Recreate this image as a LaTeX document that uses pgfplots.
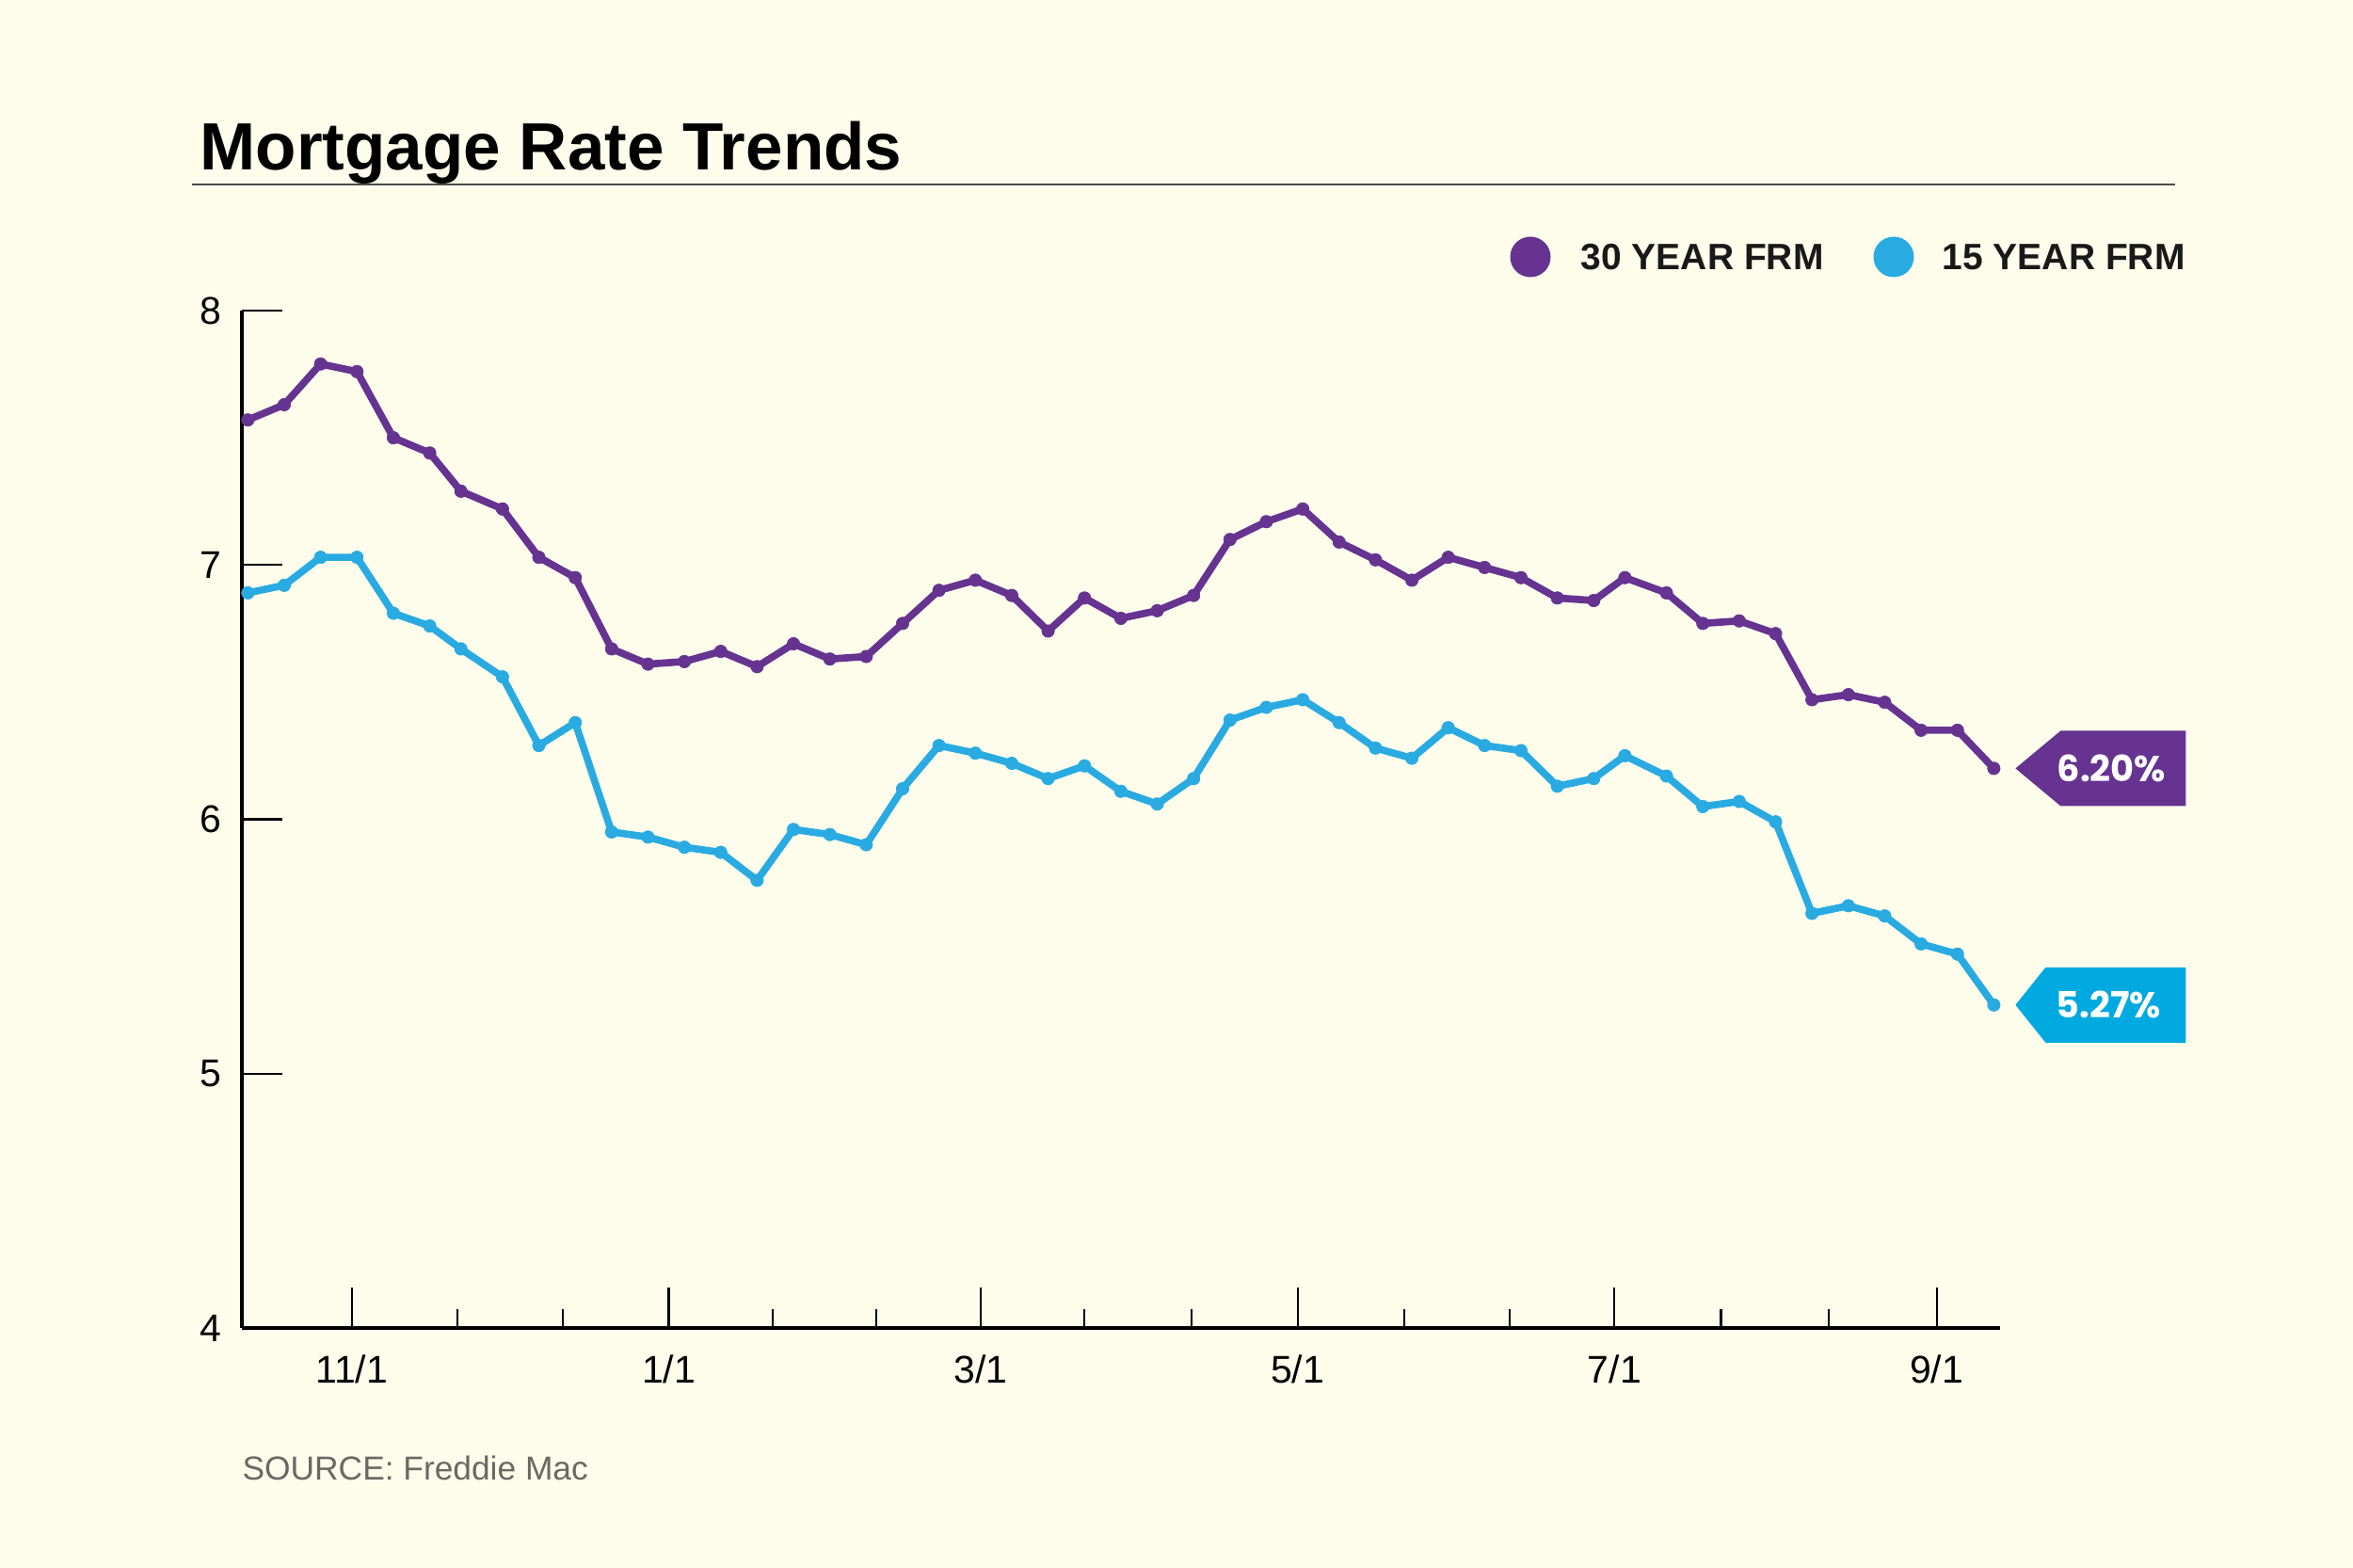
\documentclass[border=0pt]{standalone}
\usepackage{pgfplots}
\pgfplotsset{compat=1.18}
\usepackage{pgfplotstable}
\usepackage{fontspec}
\setmainfont{Liberation Sans}
\newfontfamily\tagfont{Poppins}
\definecolor{bg}{RGB}{254,253,236}
\definecolor{purp}{RGB}{102,51,145}
\definecolor{blu}{RGB}{41,171,226}
\definecolor{blutag}{RGB}{0,169,224}
\definecolor{srcgray}{RGB}{105,105,100}

% days since 10/12/2023, 30-year and 15-year FRM
\pgfplotstableread{
day r30 r15
0   7.57 6.89
7   7.63 6.92
14  7.79 7.03
21  7.76 7.03
28  7.50 6.81
35  7.44 6.76
41  7.29 6.67
49  7.22 6.56
56  7.03 6.29
63  6.95 6.38
70  6.67 5.95
77  6.61 5.93
84  6.62 5.89
91  6.66 5.87
98  6.60 5.76
105 6.69 5.96
112 6.63 5.94
119 6.64 5.90
126 6.77 6.12
133 6.90 6.29
140 6.94 6.26
147 6.88 6.22
154 6.74 6.16
161 6.87 6.21
168 6.79 6.11
175 6.82 6.06
182 6.88 6.16
189 7.10 6.39
196 7.17 6.44
203 7.22 6.47
210 7.09 6.38
217 7.02 6.28
224 6.94 6.24
231 7.03 6.36
238 6.99 6.29
245 6.95 6.27
252 6.87 6.13
259 6.86 6.16
265 6.95 6.25
273 6.89 6.17
280 6.77 6.05
287 6.78 6.07
294 6.73 5.99
301 6.47 5.63
308 6.49 5.66
315 6.46 5.62
322 6.35 5.51
329 6.35 5.47
336 6.20 5.27
}\rates

\begin{document}
\begin{tikzpicture}
\fill[bg] (0,0) rectangle (750pt,499.8pt);

% title and rule
\node[anchor=base west, inner sep=0pt, font=\fontsize{21.3}{25}\selectfont\bfseries] at (63.6pt,445.6pt) {Mortgage Rate Trends};
\draw[black!70, line width=0.5pt] (61.2pt,441pt) -- (693.3pt,441pt);

% legend
\fill[purp] (487.8pt,417.9pt) circle (6.45pt);
\node[anchor=base west, inner sep=0pt, font=\fontsize{11.7}{14}\selectfont\bfseries, text=black!90] at (503.7pt,413.7pt) {30 YEAR FRM};
\fill[blu] (603.6pt,417.9pt) circle (6.45pt);
\node[anchor=base west, inner sep=0pt, font=\fontsize{11.7}{14}\selectfont\bfseries, text=black!90] at (618.9pt,413.7pt) {15 YEAR FRM};

% source
\node[anchor=base west, inner sep=0pt, font=\fontsize{10.6}{13}\selectfont, text=srcgray] at (77.1pt,27.9pt) {SOURCE: Freddie Mac};

\begin{axis}[
  at={(77.1pt,76.5pt)}, anchor=south west,
  scale only axis, width=560.4pt, height=324.3pt,
  xmin=-1.15, xmax=337.2, ymin=4, ymax=8,
  axis x line=bottom, axis y line=left,
  axis line style={-, line width=0.95pt, black},
  clip=false,
  xtick={20,81,141,202,263,325},
  xticklabels={11/1,1/1,3/1,5/1,7/1,9/1},
  minor xtick={40.4,60.6,101,121,161,181.6,222.6,242.8,283.5,304.3},
  ytick={4,5,6,7,8},
  tick align=inside,
  major tick length=12.9pt, minor tick length=6pt,
  every tick/.style={black, line width=0.65pt},
  ticklabel style={font=\fontsize{12.3}{14}\selectfont},
  xticklabel style={yshift=-5pt},
  yticklabel style={xshift=-3pt, /pgf/number format/assume math mode=true},
]
\addplot[purp, line width=2.3pt, mark=*, mark size=2pt, mark options={line width=0.2pt}] table[x=day, y=r30] {\rates};
\addplot[blu, line width=2.3pt, mark=*, mark size=2pt, mark options={line width=0.2pt}] table[x=day, y=r15] {\rates};

% end-value tags
\fill[purp] ([xshift=6.9pt]axis cs:336,6.20) -- ++(14.4pt,12pt) -- ++(39.9pt,0pt) -- ++(0pt,-24pt) -- ++(-39.9pt,0pt) -- cycle;
\node[text=white, font=\tagfont\fontsize{11.5}{13}\selectfont\bfseries] at ([xshift=37.5pt]axis cs:336,6.20) {6.20\%};
\fill[blutag] ([xshift=6.9pt]axis cs:336,5.27) -- ++(9.6pt,12pt) -- ++(44.7pt,0pt) -- ++(0pt,-24pt) -- ++(-44.7pt,0pt) -- cycle;
\node[text=white, font=\tagfont\fontsize{11.5}{13}\selectfont\bfseries] at ([xshift=36.6pt]axis cs:336,5.27) {5.27\%};
\end{axis}
\pgfresetboundingbox
\path (0,0) rectangle (750pt,499.8pt);
\end{tikzpicture}
\end{document}
